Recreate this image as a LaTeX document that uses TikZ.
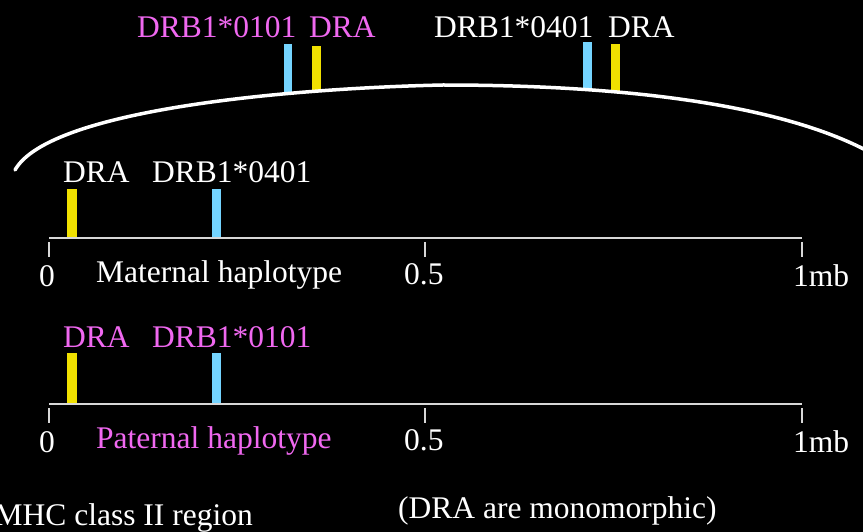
\documentclass[tikz,border=0pt]{standalone}
\usepackage{fontspec}
\setmainfont{Liberation Serif}
\definecolor{hlamag}{RGB}{240,104,240}
\definecolor{drbblue}{RGB}{116,212,255}
\definecolor{drayellow}{RGB}{240,224,0}
\definecolor{axisgray}{RGB}{215,215,215}
\usetikzlibrary{positioning}

\begin{document}
\begin{tikzpicture}[x=1pt,y=-1pt,
    lbl/.style={text=white,inner sep=0pt,anchor=base west,font=\fontsize{31.5}{36}\selectfont},
    maglbl/.style={lbl,text=hlamag},
    drabar/.style={fill=drayellow},
    drbbar/.style={fill=drbblue},
    axisline/.style={draw=axisgray,line width=1.8pt}]
      % page
      \fill[black] (0,0) rectangle (863,532);
      \useasboundingbox (0,0) rectangle (863,532);
      % zoomed part of the region
      \node[maglbl] (zdrb) at (137,38) {DRB1*0101};
      \node[maglbl] (zdraa) at (309,38) {DRA};
      \node[lbl] (zdrbb) at (434,38) {DRB1*0401};
      \node[lbl] (zdrab) at (608,38) {DRA};
      \fill[drbbar] (284,44) rectangle (292,93);
      \fill[drabar] (312,46) rectangle (321,91);
      \fill[drbbar] (583,42) rectangle (592,89);
      \fill[drabar] (611,44) rectangle (620,91);
      \draw[white,line width=3.5pt,line cap=round] (15,170) .. controls (50,108) and (300,88) .. (443,85)
        .. controls (650,85) and (800,110) .. (880,158);
      % maternal haplotype
      \node[lbl] (mdra) at (63,183) {DRA};
      \node[lbl] (mdrb) at (152,183) {DRB1*0401};
      \fill[drabar] (67,189) rectangle (77,238);
      \fill[drbbar] (212,189) rectangle (221,238);
      \coordinate (m0) at (49,238);
      \coordinate (m1) at (802,238);
      \draw[axisline] (m0) -- (m1);
      \node[lbl] (mhap) at (96,282) {Maternal haplotype};
      % paternal haplotype
      \node[maglbl] (pdra) at (63,347) {DRA};
      \node[maglbl] (pdrb) at (152,347) {DRB1*0101};
      \fill[drabar] (67,353) rectangle (77,404);
      \fill[drbbar] (212,353) rectangle (221,404);
      \coordinate (p0) at (49,404);
      \coordinate (p1) at (802,404);
      \draw[axisline] (p0) -- (p1);
      \node[maglbl] (phap) at (96,448) {Paternal haplotype};
      % scale
      \foreach \y/\s in {238/m,404/p} {
        \foreach \x in {49,425,802}
          \draw[axisline] (\x,\y+4) -- (\x,\y+19);
        \node[lbl] (\s zero) at (39,\y+48) {0};
        \node[lbl] (\s half) at (404,\y+46) {0.5};
        \node[lbl] (\s one) at (793,\y+48) {1mb};
      }
      \node[lbl,anchor=base east] (region) at (253,525) {MHC class II region};
      \node[lbl] (mono) at (398,518) {(DRA are monomorphic)};
\end{tikzpicture}
\end{document}
